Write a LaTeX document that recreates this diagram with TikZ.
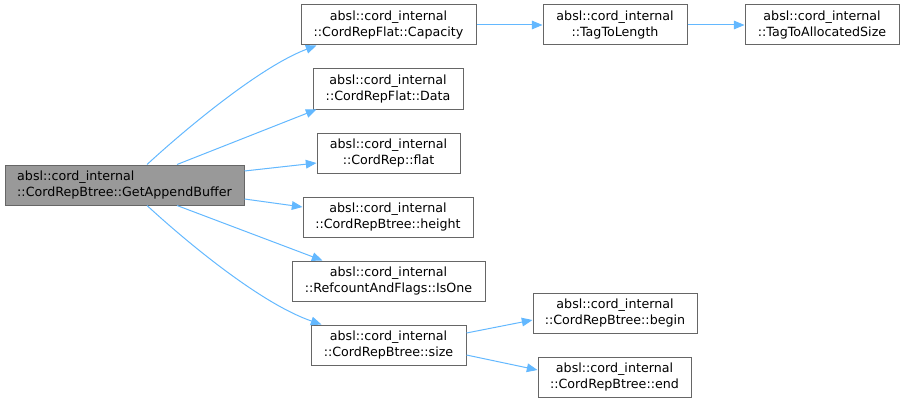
\documentclass[tikz,border=0pt]{standalone}
\usepackage{fontspec}
\setmainfont{DejaVu Sans}
\usetikzlibrary{arrows.meta,calc}
\definecolor{edgeblue}{HTML}{63B8FF}
\definecolor{boxborder}{HTML}{666666}
\definecolor{rootfill}{HTML}{999999}
\tikzset{
  fn/.style={draw=boxborder, line width=0.75pt, fill=white, rectangle, align=center,
    minimum height=30pt, inner sep=0pt, font=\fontsize{9.5}{11.8}\selectfont},
  rootfn/.style={fn, fill=rootfill, align=left},
  call/.style={draw=edgeblue, line width=0.75pt, -{Stealth[length=8pt,width=6.5pt,inset=0pt]}},
}
\begin{document}
\begin{tikzpicture}[x=0.75pt,y=-0.75pt]
\useasboundingbox (0,0) rectangle (905,403);
\node[rootfn, minimum width=239*0.75pt] (A) at (124.5,185) {absl::cord\_internal\\::CordRepBtree::GetAppendBuffer};
\node[fn, minimum width=175*0.75pt] (B) at (388.5,25) {absl::cord\_internal\\::CordRepFlat::Capacity};
\node[fn, minimum width=144*0.75pt] (C) at (615,25) {absl::cord\_internal\\::TagToLength};
\node[fn, minimum width=154*0.75pt] (D) at (822,25) {absl::cord\_internal\\::TagToAllocatedSize};
\node[fn, minimum width=150*0.75pt] (E) at (388,89) {absl::cord\_internal\\::CordRepFlat::Data};
\node[fn, minimum width=143*0.75pt] (F) at (388.5,153) {absl::cord\_internal\\::CordRep::flat};
\node[fn, minimum width=170*0.75pt] (G) at (388,217) {absl::cord\_internal\\::CordRepBtree::height};
\node[fn, minimum width=193*0.75pt] (H) at (388.5,281) {absl::cord\_internal\\::RefcountAndFlags::IsOne};
\node[fn, minimum width=155*0.75pt] (I) at (388.5,345) {absl::cord\_internal\\::CordRepBtree::size};
\node[fn, minimum width=164*0.75pt] (J) at (615,313) {absl::cord\_internal\\::CordRepBtree::begin};
\node[fn, minimum width=153*0.75pt] (K) at (614.5,377) {absl::cord\_internal\\::CordRepBtree::end};

\draw[call] ($(A.north)+(22.5,0)$) .. controls (190,125) and (262,66) .. ($(B.south west)+(16,0)$);
\draw[call] ($(A.north)+(52.5,0)$) -- ($(E.south west)+(4,0)$);
\draw[call] ($(A.east)+(0,-14)$) -- ($(F.west)+(0,10)$);
\draw[call] ($(A.east)+(0,14)$) -- ($(G.west)+(0,-10)$);
\draw[call] ($(A.south)+(52.5,0)$) -- ($(H.north west)+(31,0)$);
\draw[call] ($(A.south)+(22.5,0)$) .. controls (190,245) and (262,304) .. ($(I.north west)+(11,0)$);
\draw[call] (B.east) -- (C.west);
\draw[call] (C.east) -- (D.west);
\draw[call] ($(I.east)+(0,-12)$) -- ($(J.west)+(0,7)$);
\draw[call] ($(I.east)+(0,10)$) -- ($(K.west)+(0,-7)$);
\end{tikzpicture}
\end{document}
